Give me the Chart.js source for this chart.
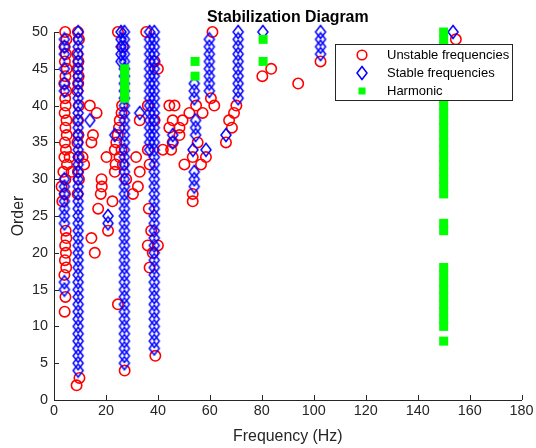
<!DOCTYPE html>
<html lang="en">
<head>
  <meta charset="UTF-8">
  <title>Stabilization Diagram</title>
  <style>
    html, body { margin: 0; padding: 0; background: #fff; }
    #chartContainer { width: 536px; height: 448px; }
  </style>
</head>
<body>
  <div id="chartContainer">
    <canvas id="stabChart" width="536" height="448"></canvas>
  </div>

  <script src="https://cdn.jsdelivr.net/npm/chart.js"></script>
  <script>
    // Stable pole columns: one frequency (Hz) per column, model orders listed
    const col9Freq = 9.3;
    const col9Orders = [4, 5, 6, 7, 8, 9, 10, 11, 12, 13, 14, 15, 16, 17, 18, 19, 20, 21, 22, 23, 24, 25, 26, 27, 28, 29, 30, 31, 32, 33, 34, 35, 36, 37, 38, 39, 40, 41, 42, 43, 44, 45, 46, 47, 48, 49, 50];
    const col27Freq = 27.1;
    const col27Orders = [5, 6, 7, 8, 9, 10, 11, 12, 13, 14, 15, 16, 17, 18, 19, 20, 21, 22, 23, 24, 25, 26, 27, 28, 29, 30, 31, 32, 33, 34, 35, 36, 37, 38, 39, 40, 41, 42, 43, 44, 45, 46, 47, 48, 49, 50];
    const col26Freq = 25.8;
    const col26Orders = [46, 47, 48, 49, 50];
    const col39Freq = 38.6;
    const col39Orders = [7, 8, 9, 10, 11, 12, 13, 14, 15, 16, 17, 18, 19, 20, 21, 22, 23, 24, 25, 26, 27, 28, 29, 30, 31, 32, 33, 34, 35, 36, 37, 38, 39, 40, 41, 42, 43, 44, 45, 46, 47, 48, 49, 50];
    const col37Freq = 36.8;
    const col37Orders = [34, 35, 36, 37, 38, 39, 40, 41, 42, 43, 44, 45, 46, 47, 48, 49, 50];
    const col60Freq = 59.8;
    const col60Orders = [42, 43, 44, 45, 46, 47, 48, 49];
    const col71Freq = 70.9;
    const col71Orders = [41, 42, 43, 44, 45, 46, 47, 48, 49, 50];
    const col103Freq = 102.6;
    const col103Orders = [47, 48, 49, 50];

    // Isolated stable poles
    const stableFreq = [4.0, 4.0, 4.0, 4.0, 4.0, 4.0, 4.0, 4.0, 4.0, 4.0, 4.0, 4.0, 4.0, 4.0, 4.0,
      13.8, 20.8, 20.8, 23.4, 33.0, 45.7, 45.7, 54.0, 54.0, 54.0, 54.5, 54.5, 54.5, 53.5, 58.5,
      54.0, 54.0, 54.0, 66.2, 80.4, 153.6];
    const stableOrder = [49, 48, 47, 45, 43, 42, 30, 29, 28, 27, 26, 25, 24, 16, 15,
      38, 25, 24, 36, 39, 36, 35, 41, 42, 43, 36, 37, 38, 34, 34,
      29, 30, 31, 36, 50, 50];

    // Unstable poles below 25 Hz
    const unstableLowFreq = [4.3, 4.8, 4.1, 4.6, 4.2, 4.9, 4.4, 4.0, 4.7, 4.3, 4.5, 4.1, 4.8, 4.4, 4.9, 4.2, 4.6, 4.0, 5.0, 3.6, 4.4, 2.9, 4.2, 3.2,
      4.5, 4.8, 4.3, 4.6, 4.2, 4.7, 4.0, 4.4, 4.1, 6.0, 6.8,
      9.2, 9.6, 9.0, 9.4, 9.1, 9.5, 9.3, 9.0, 9.6, 9.2, 9.4, 9.0, 9.5, 9.2, 9.6, 9.1, 9.8, 8.7,
      13.8, 16.4, 15.0, 14.4, 11.6, 11.0, 18.3, 18.4, 18.0, 17.0, 22.5, 20.2, 23.4, 23.7, 14.4, 15.7, 20.8, 24.6];
    const unstableLowOrder = [50, 49, 48, 47, 46, 45, 44, 43, 42, 41, 40, 39, 38, 37, 36, 35, 34, 33, 32, 31, 30, 29, 28, 27,
      23, 22, 21, 20, 19, 18, 17, 14, 12, 33, 31,
      50, 49, 47, 46, 45, 44, 43, 42, 40, 38, 36, 35, 33, 31, 30, 28, 3, 2,
      40, 39, 36, 35, 32, 33, 30, 29, 28, 26, 27, 33, 34, 32, 22, 20, 23, 13];

    // Unstable poles 25-45 Hz
    const unstableMidFreq = [24.6, 26.5, 26.2, 26.0, 25.3, 25.0, 24.5, 24.0, 26.0, 25.2, 26.5, 23.4, 27.8, 27.2,
      35.5, 38.7, 40.0, 36.1, 33.0, 38.7, 44.4, 41.9, 36.1, 31.6, 33.0, 36.8, 32.3, 30.4, 36.5,
      37.4, 36.1, 38.0, 40.0, 36.8, 39.0];
    const unstableMidOrder = [50, 48, 40, 39, 38, 37, 36, 35, 34, 33, 32, 31, 30, 4,
      50, 46, 45, 40, 38, 38, 40, 34, 34, 33, 31, 32, 29, 28, 26,
      23, 21, 20, 21, 18, 6];

    // Unstable poles above 45 Hz
    const unstableHighFreq = [46.4, 45.7, 49.5, 48.3, 44.4, 48.3, 45.7, 45.1, 52.1, 57.2, 54.7, 50.2, 53.4, 56.6, 58.5, 55.3, 53.4, 53.4,
      61.0, 60.4, 61.7, 70.2, 69.3, 67.4, 68.5, 66.2, 80.2, 83.6, 94.0, 102.6, 154.7];
    const unstableHighOrder = [40, 38, 38, 37, 37, 36, 35, 34, 39, 39, 40, 32, 33, 32, 33, 35, 28, 27,
      50, 41, 40, 40, 39, 38, 37, 35, 44, 45, 43, 46, 49];

    // Harmonic components
    const harmonicFreq = [27.2, 27.2, 27.2, 27.2, 27.2, 54.3, 54.3, 80.5, 80.5,
      150, 150, 150, 150, 150, 150, 150, 150, 150, 150, 150, 150,
      150, 150, 150, 150, 150, 150, 150, 150, 150, 150, 150, 150, 150, 150, 150, 150, 150, 150, 150, 150, 150, 150, 150];
    const harmonicOrder = [41, 42, 43, 44, 45, 44, 46, 46, 49,
      8, 10, 11, 12, 13, 14, 15, 16, 17, 18, 23, 24,
      28, 29, 30, 31, 32, 33, 34, 35, 36, 37, 38, 39, 40, 41, 42, 43, 44, 45, 46, 47, 48, 49, 50];

    const xTicks = [0, 20, 40, 60, 80, 100, 120, 140, 160, 180];
    const yTicks = [0, 5, 10, 15, 20, 25, 30, 35, 40, 45, 50];

    const axisColor = '#262626';

    function toPoints(freqs, orders) {
      return freqs.map((f, i) => ({ x: f, y: orders[i] }));
    }
    function column(freq, orders) {
      return orders.map(o => ({ x: freq, y: o }));
    }

    // Diamond marker, a little taller than wide
    function makeDiamond() {
      const c = document.createElement('canvas');
      c.width = 14;
      c.height = 16;
      const g = c.getContext('2d');
      g.strokeStyle = '#0000ff';
      g.lineWidth = 1.5;
      g.beginPath();
      g.moveTo(7, 1.5);
      g.lineTo(12, 8);
      g.lineTo(7, 14.5);
      g.lineTo(2, 8);
      g.closePath();
      g.stroke();
      return c;
    }
    const diamond = makeDiamond();

    const stablePoints = [].concat(
      column(col9Freq, col9Orders),
      column(col27Freq, col27Orders),
      column(col26Freq, col26Orders),
      column(col39Freq, col39Orders),
      column(col37Freq, col37Orders),
      column(col60Freq, col60Orders),
      column(col71Freq, col71Orders),
      column(col103Freq, col103Orders),
      toPoints(stableFreq, stableOrder)
    );
    const unstablePoints = [].concat(
      toPoints(unstableLowFreq, unstableLowOrder),
      toPoints(unstableMidFreq, unstableMidOrder),
      toPoints(unstableHighFreq, unstableHighOrder)
    );
    const harmonicPoints = toPoints(harmonicFreq, harmonicOrder);

    // Title centred over the axes
    const titlePlugin = {
      id: 'axesTitle',
      afterDraw(chart) {
        const { ctx, chartArea } = chart;
        ctx.save();
        ctx.fillStyle = '#000';
        ctx.font = 'bold 15.9px "Liberation Sans", Arial, sans-serif';
        ctx.textAlign = 'center';
        ctx.textBaseline = 'middle';
        ctx.fillText('Stabilization Diagram', (chartArea.left + chartArea.right) / 2, 18);
        ctx.restore();
      }
    };

    // Tick marks pointing into the axes
    const innerTicks = {
      id: 'innerTicks',
      afterDatasetsDraw(chart) {
        const { ctx, chartArea, scales } = chart;
        ctx.save();
        ctx.strokeStyle = axisColor;
        ctx.lineWidth = 1;
        ctx.beginPath();
        xTicks.forEach(v => {
          const px = Math.round(scales.x.getPixelForValue(v)) + 0.5;
          ctx.moveTo(px, chartArea.bottom);
          ctx.lineTo(px, chartArea.bottom - 5);
        });
        yTicks.forEach(v => {
          const py = Math.round(scales.y.getPixelForValue(v)) + 0.5;
          ctx.moveTo(chartArea.left, py);
          ctx.lineTo(chartArea.left + 5, py);
        });
        ctx.stroke();
        ctx.restore();
      }
    };

    // Boxed legend in the upper right
    const legendBox = {
      id: 'legendBox',
      afterDraw(chart) {
        const ctx = chart.ctx;
        const left = 335.5, top = 44.5, w = 177, h = 56;
        ctx.save();
        ctx.fillStyle = '#fff';
        ctx.fillRect(left, top, w, h);
        ctx.strokeStyle = axisColor;
        ctx.lineWidth = 1;
        ctx.strokeRect(left, top, w, h);

        const mx = 362, tx = 387;
        const rows = [55, 73, 91];
        ctx.strokeStyle = '#ff0000';
        ctx.lineWidth = 1.6;
        ctx.beginPath();
        ctx.arc(mx, rows[0], 4.8, 0, Math.PI * 2);
        ctx.stroke();
        ctx.drawImage(diamond, mx - diamond.width / 2, rows[1] - diamond.height / 2);
        ctx.fillStyle = '#00ff00';
        ctx.fillRect(mx - 3.5, rows[2] - 3.5, 7, 7);

        ctx.fillStyle = '#000';
        ctx.font = '13px "Liberation Sans", Arial, sans-serif';
        ctx.textAlign = 'left';
        ctx.textBaseline = 'middle';
        ctx.fillText('Unstable frequencies', tx, rows[0]);
        ctx.fillText('Stable frequencies', tx, rows[1]);
        ctx.fillText('Harmonic', tx, rows[2]);
        ctx.restore();
      }
    };

    const tickFont = { family: '"Liberation Sans", Arial, sans-serif', size: 14.4 };
    const labelFont = { family: '"Liberation Sans", Arial, sans-serif', size: 15.9 };

    new Chart(document.getElementById('stabChart').getContext('2d'), {
      type: 'scatter',
      data: {
        datasets: [
          {
            label: 'Harmonic',
            data: harmonicPoints,
            pointStyle: 'rect',
            pointRadius: 6.36,
            backgroundColor: '#00ff00',
            borderWidth: 0,
            clip: false,
            order: 1
          },
          {
            label: 'Stable frequencies',
            data: stablePoints,
            pointStyle: diamond,
            pointRadius: 5,
            clip: false,
            order: 2
          },
          {
            label: 'Unstable frequencies',
            data: unstablePoints,
            pointStyle: 'circle',
            pointRadius: 5.2,
            borderWidth: 1.6,
            borderColor: '#ff0000',
            backgroundColor: 'rgba(0,0,0,0)',
            clip: false,
            order: 3
          }
        ]
      },
      options: {
        responsive: false,
        animation: false,
        devicePixelRatio: 1,
        events: [],
        layout: { padding: { top: 32, right: 11, left: 0, bottom: 0 } },
        plugins: {
          legend: { display: false },
          tooltip: { enabled: false },
          title: { display: false }
        },
        scales: {
          x: {
            type: 'linear',
            min: 0,
            max: 180,
            afterFit: scale => { scale.height = 48; },
            afterBuildTicks: scale => { scale.ticks = xTicks.map(v => ({ value: v })); },
            ticks: { color: axisColor, font: tickFont, padding: 2.4, maxRotation: 0 },
            grid: { display: true, drawOnChartArea: false, drawTicks: false },
            border: { display: true, color: axisColor, width: 1 },
            title: { display: true, text: 'Frequency (Hz)', color: axisColor, font: labelFont, padding: { top: 0, bottom: 1.5 } }
          },
          y: {
            type: 'linear',
            min: 0,
            max: 50,
            afterFit: scale => { scale.width = 54; },
            afterBuildTicks: scale => { scale.ticks = yTicks.map(v => ({ value: v })); },
            ticks: { color: axisColor, font: tickFont, padding: 6 },
            grid: { display: true, drawOnChartArea: false, drawTicks: false },
            border: { display: true, color: axisColor, width: 1 },
            title: { display: true, text: 'Order', color: axisColor, font: labelFont, padding: { top: 9.5, bottom: 0 } }
          }
        }
      },
      plugins: [innerTicks, legendBox, titlePlugin]
    });
  </script>
</body>
</html>
